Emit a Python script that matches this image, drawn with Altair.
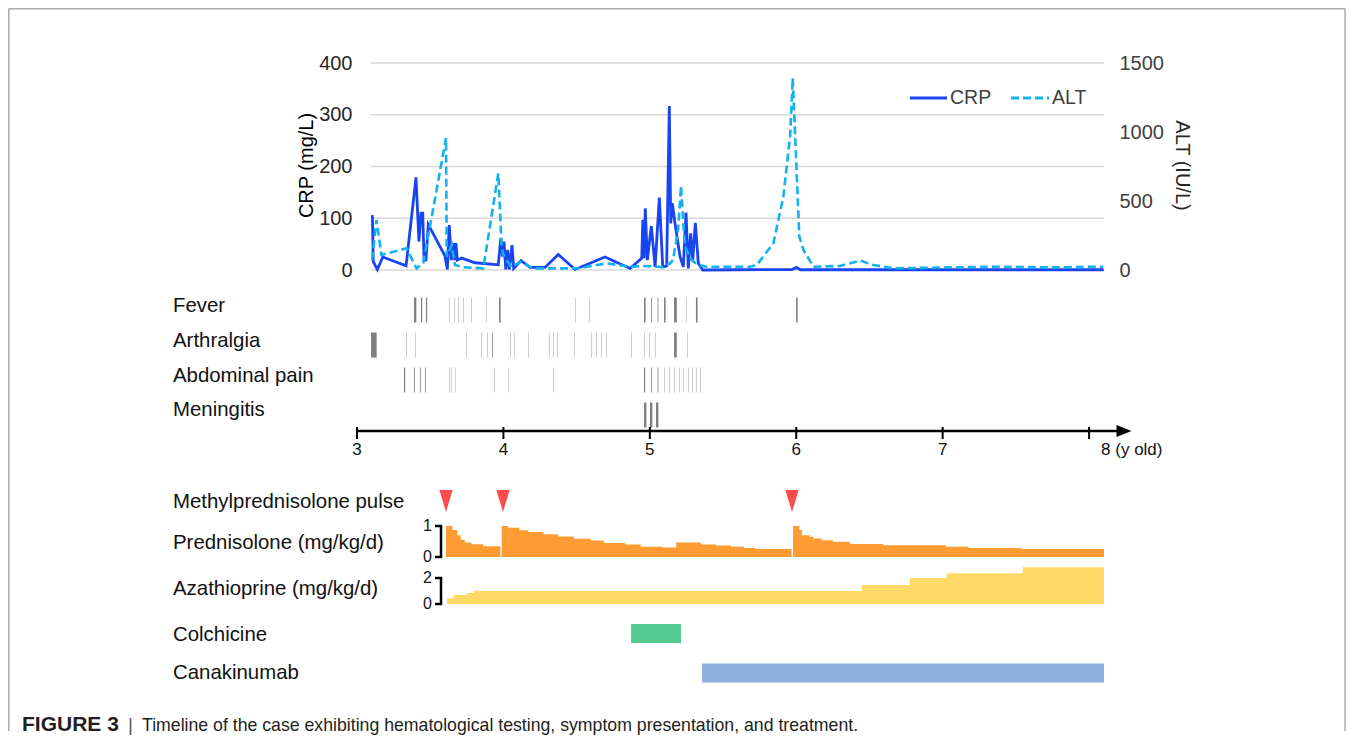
import altair as alt
import pandas as pd

FONT = "Liberation Sans"

# ---------------- hematological testing (age in years) ----------------
crp_age = [3.105, 3.111, 3.139, 3.176, 3.335, 3.403, 3.423, 3.437, 3.449, 3.458, 3.471, 3.487,
           3.601, 3.617, 3.630, 3.644, 3.658, 3.667, 3.676, 3.685, 3.715, 3.806, 3.965, 3.982,
           3.995, 4.004, 4.016, 4.029, 4.040, 4.059, 4.070, 4.120, 4.182, 4.284, 4.375, 4.489,
           4.694, 4.865, 4.945, 4.952, 4.961, 4.969, 4.983, 5.010, 5.036, 5.065, 5.088, 5.115,
           5.133, 5.143, 5.154, 5.172, 5.206, 5.229, 5.247, 5.263, 5.279, 5.293, 5.311, 5.331,
           5.361, 5.60, 5.97, 6.00, 6.03, 6.50, 7.00, 7.50, 8.10]
crp_val = [106, 16, 1, 25, 8, 179, 55, 110, 110, 19, 19, 88,
           27, 1, 87, 19, 52, 19, 52, 19, 23, 14, 10, 61,
           26, 55, 1, 39, 1, 48, 3, 18, 5, 5, 30, 1,
           25, 3, 23, 97, 23, 119, 19, 85, 6, 140, 6, 8,
           317, 90, 129, 90, 26, 6, 111, 3, 71, 19, 91, 13,
           0, 0.5, 1, 5, 0.5, 0.5, 0.5, 0.5, 0.5]

alt_age = [3.103, 3.133, 3.167, 3.338, 3.407, 3.453, 3.608, 3.613, 3.647, 3.669,
           3.726, 3.863, 3.965, 3.988, 4.004, 4.057, 4.113, 4.204, 4.387, 4.501,
           4.706, 4.865, 4.956, 5.047, 5.090, 5.138, 5.158, 5.193, 5.213, 5.229,
           5.240, 5.263, 5.286, 5.331, 5.389, 5.684, 5.730, 5.844, 5.912, 5.958,
           5.976, 5.985, 6.021, 6.049, 6.117, 6.299, 6.436, 6.527, 6.663, 7.05,
           7.39, 7.73, 8.096]
alt_val = [72, 362, 109, 157, 12, 53, 956, 96, 181, 36,
           20, 12, 700, 169, 96, 20, 60, 12, 12, 12,
           48, 24, 29, 24, 22, 48, 72, 290, 609, 338,
           169, 121, 72, 36, 24, 24, 36, 194, 532, 968,
           1391, 1161, 242, 145, 24, 29, 68, 36, 12, 19,
           24, 19, 24]

crp_ticks = [0, 100, 200, 300, 400]
alt_ticks = [0, 500, 1000, 1500]
grid_span = [3.096, 8.103]

# ---------------- symptoms: onset age and duration (days) ----------------
symptoms = ["Fever", "Arthralgia", "Abdominal pain", "Meningitis"]
fever_age = [3.389, 3.437, 3.471, 3.628, 3.663, 3.690, 3.724, 3.779, 3.881, 3.970,
             4.489, 4.585, 4.960, 5.008, 5.053, 5.097, 5.165, 5.247, 5.315, 5.999]
fever_days = [6, 3, 3, 1, 1, 1, 1, 1, 1, 4, 1, 1, 4, 2, 2, 4, 7, 1, 4, 4]
arth_age = [3.096, 3.335, 3.396, 3.745, 3.847, 3.888, 3.922, 4.045, 4.072, 4.168, 4.311, 4.339,
            4.366, 4.482, 4.598, 4.633, 4.667, 4.701, 4.872, 4.960, 4.995, 5.035, 5.165, 5.254]
arth_days = [14, 1, 1, 1, 1, 1, 2, 1, 1, 1, 1, 1, 1, 1, 1, 1, 1, 1, 1, 1, 1, 1, 7, 1]
abd_age = [3.321, 3.389, 3.430, 3.464, 3.628, 3.642, 3.669, 3.936, 4.031, 4.339, 4.960,
           5.008, 5.053, 5.097, 5.131, 5.165, 5.199, 5.227, 5.261, 5.288, 5.315, 5.343]
abd_days = [3, 2, 2, 2, 1, 1, 1, 1, 1, 1, 3, 2, 2, 1, 1, 1, 1, 1, 1, 1, 1, 1]
men_age = [4.960, 5.001, 5.042]
men_days = [6, 6, 6]

# ---------------- treatment ----------------
pulse_age = [3.608, 3.997, 5.971]
pred_c1_age = [3.608, 3.651, 3.684, 3.708, 3.736, 3.781, 3.863, 3.979]
pred_c1_dose = [1.0, 0.87, 0.70, 0.56, 0.47, 0.41, 0.35, 0.35]
pred_c2_age = [3.988, 4.031, 4.110, 4.171, 4.274, 4.374, 4.481, 4.596, 4.688, 4.831,
               4.937, 5.089, 5.180, 5.348, 5.454, 5.555, 5.643, 5.722, 5.968]
pred_c2_dose = [1.0, 0.94, 0.86, 0.81, 0.73, 0.66, 0.59, 0.53, 0.45, 0.40,
                0.33, 0.31, 0.47, 0.40, 0.37, 0.33, 0.29, 0.26, 0.26]
pred_c3_age = [5.978, 6.021, 6.038, 6.089, 6.117, 6.174, 6.249, 6.367, 6.595, 7.023,
               7.176, 7.540, 8.102]
pred_c3_dose = [1.0, 0.87, 0.70, 0.65, 0.60, 0.54, 0.49, 0.42, 0.38, 0.33, 0.29, 0.26, 0.26]
pred_ticks = [0, 1]
aza_age = [3.614, 3.660, 3.751, 3.797, 6.447, 6.777, 7.028, 7.547, 8.102]
aza_dose = [0.45, 0.7, 0.85, 1.0, 1.46, 2.0, 2.36, 2.82, 2.82]
aza_ticks = [0, 2]
drugs = ["Colchicine", "Canakinumab"]
drug_start = [4.872, 5.357]
drug_end = [5.213, 8.102]
drug_colors = ["#52C98D", "#8FAEE0"]

age_ticks = [3, 4, 5, 6, 7, 8]
age_labels = ["3", "4", "5", "6", "7"]
age_last_label = "8 (y old)"

row_labels = ["Fever", "Arthralgia", "Abdominal pain", "Meningitis",
              "Methylprednisolone pulse", "Prednisolone (mg/kg/d)", "Azathioprine (mg/kg/d)",
              "Colchicine", "Canakinumab"]
caption_bold = "FIGURE 3"
caption_text = "Timeline of the case exhibiting hematological testing, symptom presentation, and treatment."

# ---------------- tables ----------------
df_crp = pd.DataFrame({"age": crp_age, "crp": crp_val})
df_alt = pd.DataFrame({"age": alt_age, "altv": alt_val})
df_grid = pd.DataFrame({"v": crp_ticks, "x0": grid_span[0], "x1": grid_span[1]})

sym_rows = []
for name, ages, days in [("Fever", fever_age, fever_days), ("Arthralgia", arth_age, arth_days),
                         ("Abdominal pain", abd_age, abd_days), ("Meningitis", men_age, men_days)]:
    for a, d in zip(ages, days):
        sym_rows.append({"symptom": name, "start": a, "end": a + d / 365.0})
df_sym = pd.DataFrame(sym_rows)

pred_rows = []
for c, (ages, doses) in enumerate([(pred_c1_age, pred_c1_dose), (pred_c2_age, pred_c2_dose),
                                   (pred_c3_age, pred_c3_dose)]):
    for a, d in zip(ages, doses):
        pred_rows.append({"age": a, "dose": d, "course": c, "base": 0})
df_pred = pd.DataFrame(pred_rows)
df_aza = pd.DataFrame({"age": aza_age, "dose": aza_dose, "base": 0})
df_drug = pd.DataFrame({"drug": drugs, "start": drug_start, "end": drug_end})
df_pulse = pd.DataFrame({"age": pulse_age})
df_ticks = pd.DataFrame({"age": age_ticks})
df_tl = pd.DataFrame({"age": age_ticks[:5], "label": age_labels})
df_tl8 = pd.DataFrame({"age": [age_ticks[5]], "label": [age_last_label]})
one = pd.DataFrame({"k": [0]})

# ---------------- scales ----------------
xs = alt.Scale(domain=[3, 8.3], nice=False, zero=False)
crp_scale = alt.Scale(domain=[0, 400], range=[207, 0], nice=False, zero=False)
altv_scale = alt.Scale(domain=[0, 1500], range=[207, 0], nice=False, zero=False)
sym_scale = alt.Scale(domain=symptoms, range=[229.5, 369.5], paddingInner=0.2857, paddingOuter=0.1429)
pred_scale = alt.Scale(domain=[0, 1], range=[494, 463], nice=False, zero=False)
aza_scale = alt.Scale(domain=[0, 2], range=[541, 515], nice=False, zero=False)
drug_scale = alt.Scale(domain=drugs, range=[550.75, 629.75], paddingInner=0.519, paddingOuter=0.2595)


def X(f):
    return alt.X(f, type="quantitative", scale=xs, axis=None)


def text_at(txt, x, y, size=20.4, align="left", color="#111111", weight="normal", baseline="middle", font=FONT):
    return alt.Chart(one).mark_text(text=txt, align=align, baseline=baseline, fontSize=size, font=font,
                                    color=color, fontWeight=weight).encode(x=alt.value(x), y=alt.value(y))


def rule_at(color, width, **enc):
    return alt.Chart(one).mark_rule(color=color, strokeWidth=width).encode(
        **{k: alt.value(v) for k, v in enc.items()})


layers = []

# frame (open at the bottom)
FR = "#ABABAB"
layers.append(rule_at(FR, 1.5, x=-348.25, x2=988, y=-54.25))
layers.append(rule_at(FR, 1.5, x=-348.25, y=-54.25, y2=668))
layers.append(rule_at(FR, 1.5, x=988, y=-54.25, y2=668))

# grid
layers.append(alt.Chart(df_grid).mark_rule(color="#D9D9D9", strokeWidth=1.3).encode(
    x=X("x0"), x2="x1", y=alt.Y("v:Q", scale=crp_scale, axis=None)))

# CRP line
layers.append(alt.Chart(df_crp).mark_line(color="#1944F1", strokeWidth=2.8).encode(
    x=X("age"),
    y=alt.Y("crp:Q", scale=crp_scale,
            axis=alt.Axis(orient="left", values=crp_ticks, format="d", domain=False, ticks=False,
                          grid=False, labelFont=FONT, labelFontSize=20, labelColor="#262626",
                          labelPadding=5, labelFlush=False, title="CRP (mg/L)", titleFont=FONT,
                          titleFontSize=20, titleFontWeight="normal", titleColor="#000000",
                          titleX=-51, titleY=102, titleAngle=270, titleAlign="center",
                          titleBaseline="middle"))))

# ALT line
layers.append(alt.Chart(df_alt).mark_line(color="#12B2EE", strokeWidth=2.6, strokeDash=[8, 4]).encode(
    x=X("age"),
    y=alt.Y("altv:Q", scale=altv_scale,
            axis=alt.Axis(orient="right", values=alt_ticks, format="d", domain=False, ticks=False,
                          grid=False, offset=-19, labelFont=FONT, labelFontSize=20,
                          labelColor="#404040", labelPadding=5, labelFlush=False,
                          title="ALT (IU/L)", titleFont=FONT, titleFontSize=20,
                          titleFontWeight="normal", titleColor="#262626", titleX=67, titleY=102,
                          titleAngle=90, titleAlign="center", titleBaseline="middle"))))

# legend
layers.append(alt.Chart(one).mark_rule(color="#1944F1", strokeWidth=3).encode(
    x=alt.value(553), x2=alt.value(590), y=alt.value(35)))
layers.append(text_at("CRP", 593, 35, size=19.5, color="#404040"))
layers.append(alt.Chart(one).mark_rule(color="#12B2EE", strokeWidth=3, strokeDash=[8, 4]).encode(
    x=alt.value(654), x2=alt.value(692), y=alt.value(35)))
layers.append(text_at("ALT", 695, 35, size=19.5, color="#404040"))

# symptoms
layers.append(alt.Chart(df_sym).mark_rect(color="#7F7F7F").encode(
    x=X("start"), x2="end", y=alt.Y("symptom:N", scale=sym_scale, axis=None)))

# row labels
row_y = [243, 278, 313, 347, 439, 480, 526, 572, 610]
for lab, yy in zip(row_labels, row_y):
    layers.append(text_at(lab, -184, yy))

# timeline axis
layers.append(alt.Chart(one).mark_rule(color="black", strokeWidth=2.5).encode(
    x=alt.value(0), x2=alt.value(760), y=alt.value(368)))
layers.append(alt.Chart(one).mark_point(shape="M-1,-0.8L1,0L-1,0.8Z", filled=True, size=225,
                                        color="black", opacity=1, strokeWidth=0).encode(
    x=alt.value(767), y=alt.value(368)))
layers.append(alt.Chart(df_ticks).mark_rule(color="black", strokeWidth=2).encode(
    x=X("age"), y=alt.value(364), y2=alt.value(376)))
layers.append(alt.Chart(df_tl).mark_text(font=FONT, fontSize=17, baseline="middle", align="center",
                                         color="#111111").encode(
    x=X("age"), y=alt.value(387), text="label:N"))
layers.append(alt.Chart(df_tl8).mark_text(font=FONT, fontSize=17, baseline="middle", align="left",
                                          dx=12, color="#111111").encode(
    x=X("age"), y=alt.value(387), text="label:N"))

# methylprednisolone pulses
layers.append(alt.Chart(df_pulse).mark_point(shape="M-0.6,-1L0.6,-1L0,1Z", filled=True, size=484,
                                             color="#FF4B4B", opacity=1, strokeWidth=0).encode(
    x=X("age"), y=alt.value(438)))

# prednisolone
layers.append(alt.Chart(df_pred).mark_area(interpolate="step-after", color="#FF9B33", opacity=1).encode(
    x=X("age"), y=alt.Y("dose:Q", scale=pred_scale, axis=None, stack=None), y2="base:Q",
    detail="course:N"))
# azathioprine
layers.append(alt.Chart(df_aza).mark_area(interpolate="step-after", color="#FFD966", opacity=1).encode(
    x=X("age"), y=alt.Y("dose:Q", scale=aza_scale, axis=None, stack=None), y2="base:Q"))

# brackets
for ticks, sc in [(pred_ticks, pred_scale), (aza_ticks, aza_scale)]:
    dfb = pd.DataFrame({"lo": [ticks[0]], "hi": [ticks[1]]})
    dft = pd.DataFrame({"v": ticks})
    layers.append(alt.Chart(dfb).mark_rule(color="black", strokeWidth=2.5).encode(
        x=alt.value(84), y=alt.Y("lo:Q", scale=sc, axis=None), y2="hi:Q"))
    layers.append(alt.Chart(dft).mark_rule(color="black", strokeWidth=2.5).encode(
        x=alt.value(78), x2=alt.value(85.2), y=alt.Y("v:Q", scale=sc, axis=None)))
    layers.append(alt.Chart(dft).mark_text(font=FONT, fontSize=16, align="right", baseline="middle",
                                           color="#111111").encode(
        x=alt.value(75), y=alt.Y("v:Q", scale=sc, axis=None), text="v:Q"))

# colchicine / canakinumab
layers.append(alt.Chart(df_drug).mark_rect().encode(
    x=X("start"), x2="end", y=alt.Y("drug:N", scale=drug_scale, axis=None),
    color=alt.Color("drug:N", scale=alt.Scale(domain=drugs, range=drug_colors), legend=None)))

# caption
layers.append(text_at(caption_bold, -335, 668, size=21, weight="bold", color="#231F20", baseline="alphabetic"))
layers.append(text_at("|", -229, 668, size=19, color="#555555", baseline="alphabetic"))
layers.append(text_at(caption_text, -215, 668, size=17.7, color="#231F20", baseline="alphabetic"))

chart = alt.layer(*layers).resolve_scale(y="independent").properties(
    width=776, height=620, padding=0
).configure_view(stroke=None)

chart.save("out.html", embed_options={"renderer": "svg", "actions": False})
